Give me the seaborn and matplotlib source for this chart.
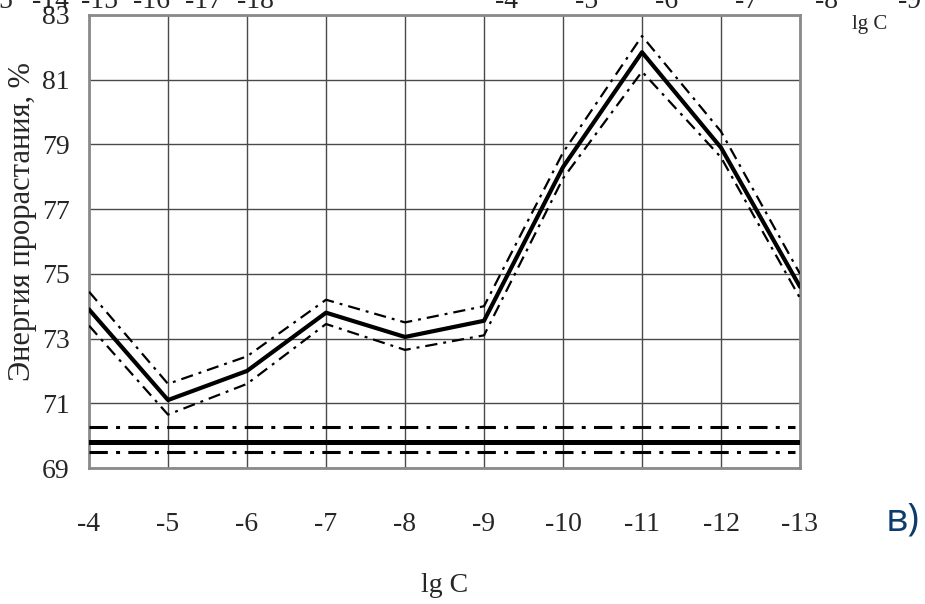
import matplotlib
matplotlib.use("Agg")
import matplotlib.pyplot as plt
import seaborn as sns
import pandas as pd

# ---- data ----
lgC = [-4, -5, -6, -7, -8, -9, -10, -11, -12, -13]
mean_vals = [73.9, 71.1, 72.0, 73.8, 73.05, 73.55, 78.3, 81.85, 78.9, 74.6]
upper_vals = [74.45, 71.6, 72.45, 74.2, 73.5, 74.0, 78.75, 82.35, 79.4, 75.0]
lower_vals = [73.4, 70.65, 71.6, 73.45, 72.65, 73.1, 77.95, 81.25, 78.6, 74.25]
control_mean = 69.8
control_upper = 70.27
control_lower = 69.48
xtick_labels = ["-4", "-5", "-6", "-7", "-8", "-9", "-10", "-11", "-12", "-13"]
yticks = [69, 71, 73, 75, 77, 79, 81, 83]
top_left_frag = [("5", 5), ("-14", 50), ("-15", 100), ("-16", 152), ("-17", 203), ("-18", 255)]
top_right_frag = [("-4", 507), ("-5", 587), ("-6", 667), ("-7", 747), ("-8", 827), ("-9", 910)]

sns.set_style("white")
plt.rcParams["font.family"] = ["Liberation Serif", "DejaVu Serif"]

W, H = 925, 604
fig = plt.figure(figsize=(W / 100, H / 100), dpi=100)
ax = fig.add_axes([89 / W, 1 - 468 / H, (800 - 89) / W, (468 - 15) / H])

pos = list(range(len(lgC)))
df = pd.DataFrame({"pos": pos, "mean": mean_vals, "up": upper_vals, "lo": lower_vals})

band_dash = (5.5, 2.7, 1.3, 2.7)
sns.lineplot(data=df, x="pos", y="up", ax=ax, color="black", linewidth=1.6,
             zorder=4).lines[-1].set_dashes(band_dash)
sns.lineplot(data=df, x="pos", y="lo", ax=ax, color="black", linewidth=1.6,
             zorder=4).lines[-1].set_dashes(band_dash)
sns.lineplot(data=df, x="pos", y="mean", ax=ax, color="black", linewidth=3.0, zorder=5)

ctrl_dash = (6, 2.7, 1.3, 2.7)
ax.axhline(control_mean, color="black", linewidth=3.6, zorder=5)
l1 = ax.axhline(control_upper, color="black", linewidth=2.2, zorder=5, xmax=0.993)
l1.set_dashes(ctrl_dash)
l2 = ax.axhline(control_lower, color="black", linewidth=2.2, zorder=5, xmax=0.993)
l2.set_dashes(ctrl_dash)

ax.set_xlim(0, len(lgC) - 1)
ax.set_ylim(69, 83)
ax.set_xticks(pos)
ax.set_xticklabels(xtick_labels)
ax.set_yticks(yticks)
ax.set_xlabel("")
ax.set_ylabel("")
ax.grid(True, color="#4a4a4a", linewidth=1.0, zorder=1)
ax.set_axisbelow(True)
for s in ax.spines.values():
    s.set_color("#8a8a8a")
    s.set_linewidth(2.0)

ax.tick_params(axis="x", direction="out", length=12, width=1.0, color="#4a4a4a",
               pad=20, labelsize=20)
ax.tick_params(axis="y", length=0, pad=14, labelsize=20)

fig.text(445 / W, 1 - 585 / H, "lg C", fontsize=20, ha="center", va="center")

fig.text(23 / W, 1 - 222 / H, "Энергия прорастания, %", fontsize=22,
         rotation=90, ha="center", va="center")

# top fragments (clipped, from neighbouring chart)
for t, x in top_left_frag + top_right_frag:
    fig.text(x / W, 1 - 8 / H, t, fontsize=20, ha="center", va="baseline")
fig.text(870 / W, 1 - 24 / H, "lg C", fontsize=15, ha="center", va="center")

fig.text(903 / W, 1 - 520 / H, "в)", fontsize=28, color="#0e3b6e",
         family=["Open Sans", "DejaVu Sans"], ha="center", va="center")

fig.savefig("out.png", dpi=100)
